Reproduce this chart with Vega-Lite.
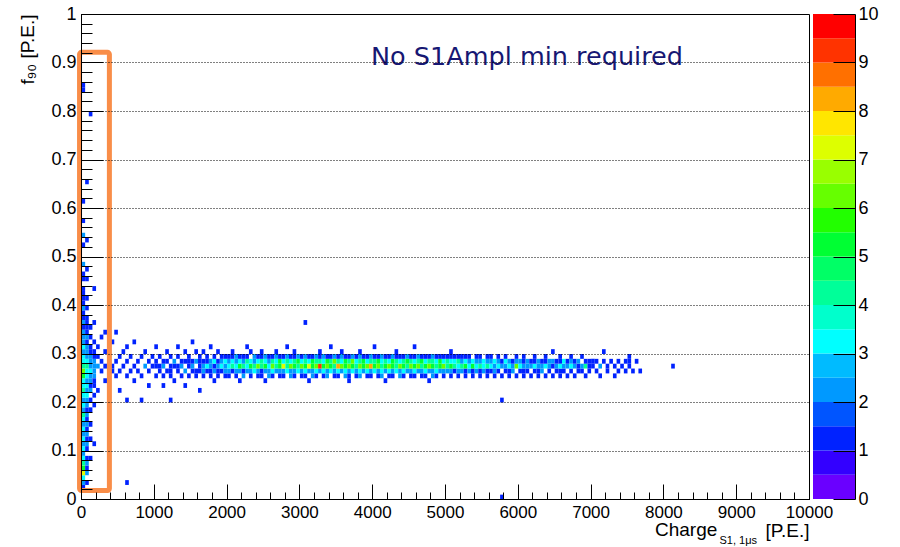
{
"$schema": "https://vega.github.io/schema/vega-lite/v6.json",
"autosize": {"type": "pad"},
"padding": {"left": 17, "top": 4, "right": 5, "bottom": 2},
"background": "white",
"bounds": "flush",
"spacing": 4,
"config": {
 "font": "Liberation Sans",
 "view": {"stroke": "#000", "strokeWidth": 1},
 "axis": {"labelFont": "Liberation Sans", "titleFont": "Liberation Sans", "labelColor": "#000", "titleColor": "#000", "tickColor": "#000", "domainColor": "#000", "labelFontSize": 18, "titleFontSize": 19, "titleFontWeight": "normal", "labelFlush": false, "labelOverlap": false, "tickWidth": 1, "domainWidth": 1}
},
"datasets": {
 "cells": [
{"x":0,"y":0.02,"c":1},{"x":0,"y":0.03,"c":2},{"x":0,"y":0.04,"c":3},{"x":0,"y":0.05,"c":7},{"x":0,"y":0.06,"c":5},{"x":0,"y":0.07,"c":4},{"x":0,"y":0.08,"c":3},{"x":0,"y":0.09,"c":2},{"x":0,"y":0.1,"c":3},{"x":0,"y":0.11,"c":2},{"x":0,"y":0.12,"c":3},{"x":0,"y":0.13,"c":2},{"x":0,"y":0.14,"c":3},{"x":0,"y":0.15,"c":2},{"x":0,"y":0.16,"c":3},{"x":0,"y":0.17,"c":4},{"x":0,"y":0.18,"c":2},{"x":0,"y":0.19,"c":3},{"x":0,"y":0.2,"c":2},{"x":0,"y":0.21,"c":3},{"x":0,"y":0.22,"c":4},{"x":0,"y":0.23,"c":3},{"x":0,"y":0.24,"c":3},{"x":0,"y":0.25,"c":5},{"x":0,"y":0.26,"c":6},{"x":0,"y":0.27,"c":4},{"x":0,"y":0.28,"c":3},{"x":0,"y":0.29,"c":3},{"x":0,"y":0.3,"c":2},{"x":0,"y":0.31,"c":3},{"x":0,"y":0.32,"c":2},{"x":0,"y":0.33,"c":2},{"x":0,"y":0.34,"c":2},{"x":0,"y":0.35,"c":1},{"x":0,"y":0.36,"c":2},{"x":0,"y":0.37,"c":1},{"x":0,"y":0.38,"c":1},{"x":0,"y":0.39,"c":2},{"x":0,"y":0.4,"c":1},{"x":0,"y":0.41,"c":1},{"x":0,"y":0.42,"c":1},{"x":0,"y":0.43,"c":1},{"x":0,"y":0.45,"c":1},{"x":0,"y":0.46,"c":1},{"x":0,"y":0.48,"c":2},{"x":0,"y":0.52,"c":1},{"x":0,"y":0.54,"c":2},{"x":0,"y":0.57,"c":1},{"x":0,"y":0.61,"c":1},{"x":0,"y":0.84,"c":1},{"x":0,"y":0.85,"c":1},
{"x":50,"y":0.03,"c":1},{"x":50,"y":0.05,"c":2},{"x":50,"y":0.06,"c":1},{"x":50,"y":0.07,"c":2},{"x":50,"y":0.08,"c":1},{"x":50,"y":0.1,"c":1},{"x":50,"y":0.11,"c":2},{"x":50,"y":0.12,"c":1},{"x":50,"y":0.13,"c":2},{"x":50,"y":0.14,"c":1},{"x":50,"y":0.15,"c":2},{"x":50,"y":0.16,"c":1},{"x":50,"y":0.17,"c":2},{"x":50,"y":0.18,"c":1},{"x":50,"y":0.19,"c":2},{"x":50,"y":0.2,"c":2},{"x":50,"y":0.21,"c":3},{"x":50,"y":0.22,"c":2},{"x":50,"y":0.23,"c":3},{"x":50,"y":0.24,"c":2},{"x":50,"y":0.25,"c":3},{"x":50,"y":0.26,"c":3},{"x":50,"y":0.27,"c":4},{"x":50,"y":0.28,"c":3},{"x":50,"y":0.29,"c":2},{"x":50,"y":0.3,"c":2},{"x":50,"y":0.31,"c":2},{"x":50,"y":0.32,"c":1},{"x":50,"y":0.33,"c":2},{"x":50,"y":0.34,"c":1},{"x":50,"y":0.35,"c":1},{"x":50,"y":0.36,"c":1},{"x":50,"y":0.37,"c":1},{"x":50,"y":0.39,"c":1},{"x":50,"y":0.41,"c":1},{"x":50,"y":0.45,"c":1},{"x":50,"y":0.47,"c":1},{"x":50,"y":0.53,"c":1},{"x":50,"y":0.65,"c":1},
{"x":100,"y":0.08,"c":1},{"x":100,"y":0.12,"c":1},{"x":100,"y":0.15,"c":1},{"x":100,"y":0.18,"c":1},{"x":100,"y":0.2,"c":1},{"x":100,"y":0.22,"c":2},{"x":100,"y":0.23,"c":1},{"x":100,"y":0.24,"c":2},{"x":100,"y":0.25,"c":2},{"x":100,"y":0.26,"c":3},{"x":100,"y":0.27,"c":2},{"x":100,"y":0.28,"c":2},{"x":100,"y":0.29,"c":2},{"x":100,"y":0.3,"c":1},{"x":100,"y":0.31,"c":1},{"x":100,"y":0.33,"c":1},{"x":100,"y":0.35,"c":1},{"x":100,"y":0.79,"c":1},
{"x":150,"y":0.11,"c":1},{"x":150,"y":0.19,"c":1},{"x":150,"y":0.21,"c":1},{"x":150,"y":0.23,"c":1},{"x":150,"y":0.24,"c":1},{"x":150,"y":0.25,"c":2},{"x":150,"y":0.26,"c":2},{"x":150,"y":0.27,"c":2},{"x":150,"y":0.28,"c":2},{"x":150,"y":0.29,"c":1},{"x":150,"y":0.3,"c":1},{"x":150,"y":0.32,"c":1},{"x":150,"y":0.36,"c":1},{"x":150,"y":0.43,"c":1},
{"x":200,"y":0.22,"c":1},{"x":200,"y":0.27,"c":2},{"x":200,"y":0.29,"c":1},{"x":200,"y":0.31,"c":1},
{"x":250,"y":0.26,"c":1},{"x":250,"y":0.28,"c":1},{"x":250,"y":0.33,"c":1},
{"x":300,"y":0.24,"c":1},{"x":300,"y":0.27,"c":1},{"x":300,"y":0.3,"c":1},{"x":300,"y":0.34,"c":1},
{"x":350,"y":0.25,"c":1},{"x":350,"y":0.29,"c":1},{"x":350,"y":0.21,"c":1},
{"x":400,"y":0.27,"c":1},{"x":400,"y":0.32,"c":1},{"x":400,"y":0.26,"c":1},
{"x":450,"y":0.28,"c":1},{"x":450,"y":0.25,"c":1},{"x":450,"y":0.34,"c":1},
{"x":500,"y":0.26,"c":1},{"x":500,"y":0.29,"c":1},{"x":500,"y":0.22,"c":1},
{"x":550,"y":0.27,"c":1},{"x":550,"y":0.3,"c":1},
{"x":600,"y":0.25,"c":1},{"x":600,"y":0.28,"c":1},{"x":600,"y":0.31,"c":1},{"x":600,"y":0.03,"c":1},{"x":600,"y":0.2,"c":1},
{"x":650,"y":0.26,"c":1},{"x":650,"y":0.29,"c":1},
{"x":700,"y":0.27,"c":1},{"x":700,"y":0.24,"c":1},{"x":700,"y":0.32,"c":1},
{"x":750,"y":0.28,"c":1},{"x":750,"y":0.26,"c":1},
{"x":800,"y":0.25,"c":1},{"x":800,"y":0.29,"c":1},{"x":800,"y":0.2,"c":1},
{"x":850,"y":0.27,"c":2},{"x":850,"y":0.3,"c":1},
{"x":900,"y":0.26,"c":1},{"x":900,"y":0.28,"c":1},{"x":900,"y":0.23,"c":1},
{"x":950,"y":0.27,"c":1},{"x":950,"y":0.29,"c":1},
{"x":1000,"y":0.25,"c":1},{"x":1000,"y":0.27,"c":1},{"x":1000,"y":0.28,"c":1},{"x":1000,"y":0.31,"c":1},
{"x":1050,"y":0.26,"c":1},{"x":1050,"y":0.27,"c":1},{"x":1050,"y":0.29,"c":1},
{"x":1100,"y":0.25,"c":1},{"x":1100,"y":0.27,"c":2},{"x":1100,"y":0.28,"c":1},{"x":1100,"y":0.23,"c":1},
{"x":1150,"y":0.26,"c":1},{"x":1150,"y":0.28,"c":1},{"x":1150,"y":0.3,"c":1},
{"x":1200,"y":0.25,"c":1},{"x":1200,"y":0.26,"c":1},{"x":1200,"y":0.27,"c":1},{"x":1200,"y":0.29,"c":1},{"x":1200,"y":0.2,"c":1},
{"x":1250,"y":0.27,"c":1},{"x":1250,"y":0.28,"c":2},{"x":1250,"y":0.24,"c":1},
{"x":1300,"y":0.26,"c":1},{"x":1300,"y":0.27,"c":1},{"x":1300,"y":0.29,"c":1},{"x":1300,"y":0.31,"c":1},
{"x":1350,"y":0.25,"c":1},{"x":1350,"y":0.27,"c":2},{"x":1350,"y":0.28,"c":1},
{"x":1400,"y":0.26,"c":2},{"x":1400,"y":0.28,"c":1},{"x":1400,"y":0.3,"c":1},{"x":1400,"y":0.23,"c":1},
{"x":1450,"y":0.25,"c":1},{"x":1450,"y":0.27,"c":1},{"x":1450,"y":0.28,"c":1},{"x":1450,"y":0.29,"c":1},
{"x":1500,"y":0.26,"c":1},{"x":1500,"y":0.27,"c":2},{"x":1500,"y":0.28,"c":1},{"x":1500,"y":0.32,"c":1},
{"x":1550,"y":0.25,"c":1},{"x":1550,"y":0.26,"c":1},{"x":1550,"y":0.28,"c":2},{"x":1550,"y":0.3,"c":1},
{"x":1600,"y":0.26,"c":1},{"x":1600,"y":0.27,"c":1},{"x":1600,"y":0.28,"c":1},{"x":1600,"y":0.29,"c":1},{"x":1600,"y":0.22,"c":1},
{"x":1650,"y":0.25,"c":1},{"x":1650,"y":0.26,"c":2},{"x":1650,"y":0.27,"c":2},{"x":1650,"y":0.28,"c":1},{"x":1650,"y":0.3,"c":1},
{"x":1700,"y":0.26,"c":1},{"x":1700,"y":0.27,"c":3},{"x":1700,"y":0.28,"c":1},{"x":1700,"y":0.29,"c":1},
{"x":1750,"y":0.25,"c":1},{"x":1750,"y":0.26,"c":1},{"x":1750,"y":0.27,"c":2},{"x":1750,"y":0.28,"c":2},{"x":1750,"y":0.31,"c":1},
{"x":1800,"y":0.26,"c":2},{"x":1800,"y":0.27,"c":1},{"x":1800,"y":0.28,"c":3},{"x":1800,"y":0.29,"c":1},{"x":1800,"y":0.24,"c":1},
{"x":1850,"y":0.25,"c":1},{"x":1850,"y":0.26,"c":1},{"x":1850,"y":0.27,"c":2},{"x":1850,"y":0.28,"c":1},{"x":1850,"y":0.3,"c":1},
{"x":1900,"y":0.26,"c":1},{"x":1900,"y":0.27,"c":3},{"x":1900,"y":0.28,"c":2},{"x":1900,"y":0.29,"c":1},
{"x":1950,"y":0.25,"c":1},{"x":1950,"y":0.26,"c":2},{"x":1950,"y":0.27,"c":2},{"x":1950,"y":0.28,"c":3},{"x":1950,"y":0.29,"c":1},
{"x":2000,"y":0.25,"c":1},{"x":2000,"y":0.26,"c":2},{"x":2000,"y":0.27,"c":3},{"x":2000,"y":0.28,"c":2},{"x":2000,"y":0.29,"c":1},
{"x":2050,"y":0.26,"c":1},{"x":2050,"y":0.27,"c":4},{"x":2050,"y":0.28,"c":3},{"x":2050,"y":0.29,"c":1},{"x":2050,"y":0.3,"c":1},
{"x":2100,"y":0.25,"c":1},{"x":2100,"y":0.26,"c":2},{"x":2100,"y":0.27,"c":3},{"x":2100,"y":0.28,"c":2},{"x":2100,"y":0.29,"c":2},
{"x":2150,"y":0.26,"c":2},{"x":2150,"y":0.27,"c":5},{"x":2150,"y":0.28,"c":3},{"x":2150,"y":0.29,"c":1},{"x":2150,"y":0.24,"c":1},
{"x":2200,"y":0.25,"c":2},{"x":2200,"y":0.26,"c":1},{"x":2200,"y":0.27,"c":4},{"x":2200,"y":0.28,"c":2},{"x":2200,"y":0.29,"c":1},
{"x":2250,"y":0.26,"c":2},{"x":2250,"y":0.27,"c":3},{"x":2250,"y":0.28,"c":4},{"x":2250,"y":0.29,"c":1},{"x":2250,"y":0.31,"c":1},
{"x":2300,"y":0.25,"c":1},{"x":2300,"y":0.26,"c":2},{"x":2300,"y":0.27,"c":5},{"x":2300,"y":0.28,"c":3},{"x":2300,"y":0.3,"c":1},
{"x":2350,"y":0.26,"c":3},{"x":2350,"y":0.27,"c":4},{"x":2350,"y":0.28,"c":2},{"x":2350,"y":0.29,"c":2},
{"x":2400,"y":0.25,"c":1},{"x":2400,"y":0.26,"c":2},{"x":2400,"y":0.27,"c":6},{"x":2400,"y":0.28,"c":3},{"x":2400,"y":0.29,"c":1},
{"x":2450,"y":0.25,"c":1},{"x":2450,"y":0.26,"c":1},{"x":2450,"y":0.27,"c":4},{"x":2450,"y":0.28,"c":4},{"x":2450,"y":0.29,"c":1},{"x":2450,"y":0.3,"c":1},
{"x":2500,"y":0.26,"c":2},{"x":2500,"y":0.27,"c":5},{"x":2500,"y":0.28,"c":3},{"x":2500,"y":0.29,"c":2},{"x":2500,"y":0.24,"c":1},
{"x":2550,"y":0.25,"c":2},{"x":2550,"y":0.26,"c":2},{"x":2550,"y":0.27,"c":3},{"x":2550,"y":0.28,"c":2},{"x":2550,"y":0.29,"c":1},
{"x":2600,"y":0.25,"c":1},{"x":2600,"y":0.26,"c":3},{"x":2600,"y":0.27,"c":6},{"x":2600,"y":0.28,"c":4},{"x":2600,"y":0.29,"c":1},
{"x":2650,"y":0.26,"c":2},{"x":2650,"y":0.27,"c":4},{"x":2650,"y":0.28,"c":3},{"x":2650,"y":0.29,"c":2},{"x":2650,"y":0.3,"c":1},
{"x":2700,"y":0.25,"c":1},{"x":2700,"y":0.26,"c":2},{"x":2700,"y":0.27,"c":5},{"x":2700,"y":0.28,"c":5},{"x":2700,"y":0.29,"c":1},
{"x":2750,"y":0.25,"c":1},{"x":2750,"y":0.26,"c":2},{"x":2750,"y":0.27,"c":7},{"x":2750,"y":0.28,"c":3},{"x":2750,"y":0.29,"c":1},
{"x":2800,"y":0.26,"c":3},{"x":2800,"y":0.27,"c":4},{"x":2800,"y":0.28,"c":4},{"x":2800,"y":0.29,"c":2},{"x":2800,"y":0.31,"c":1},
{"x":2850,"y":0.25,"c":2},{"x":2850,"y":0.26,"c":2},{"x":2850,"y":0.27,"c":6},{"x":2850,"y":0.28,"c":3},{"x":2850,"y":0.29,"c":1},
{"x":2900,"y":0.25,"c":1},{"x":2900,"y":0.26,"c":2},{"x":2900,"y":0.27,"c":5},{"x":2900,"y":0.28,"c":4},{"x":2900,"y":0.29,"c":1},{"x":2900,"y":0.3,"c":1},
{"x":2950,"y":0.26,"c":3},{"x":2950,"y":0.27,"c":4},{"x":2950,"y":0.28,"c":5},{"x":2950,"y":0.29,"c":2},
{"x":3000,"y":0.25,"c":1},{"x":3000,"y":0.26,"c":2},{"x":3000,"y":0.27,"c":6},{"x":3000,"y":0.28,"c":3},{"x":3000,"y":0.29,"c":1},
{"x":3050,"y":0.25,"c":1},{"x":3050,"y":0.26,"c":3},{"x":3050,"y":0.27,"c":5},{"x":3050,"y":0.28,"c":4},{"x":3050,"y":0.29,"c":2},{"x":3050,"y":0.36,"c":1},
{"x":3100,"y":0.26,"c":2},{"x":3100,"y":0.27,"c":7},{"x":3100,"y":0.28,"c":3},{"x":3100,"y":0.29,"c":1},{"x":3100,"y":0.24,"c":1},
{"x":3150,"y":0.25,"c":2},{"x":3150,"y":0.26,"c":2},{"x":3150,"y":0.27,"c":5},{"x":3150,"y":0.28,"c":5},{"x":3150,"y":0.29,"c":1},
{"x":3200,"y":0.25,"c":1},{"x":3200,"y":0.26,"c":3},{"x":3200,"y":0.27,"c":6},{"x":3200,"y":0.28,"c":4},{"x":3200,"y":0.29,"c":2},
{"x":3250,"y":0.26,"c":2},{"x":3250,"y":0.27,"c":9},{"x":3250,"y":0.28,"c":4},{"x":3250,"y":0.29,"c":1},{"x":3250,"y":0.3,"c":1},
{"x":3300,"y":0.25,"c":1},{"x":3300,"y":0.26,"c":3},{"x":3300,"y":0.27,"c":5},{"x":3300,"y":0.28,"c":3},{"x":3300,"y":0.29,"c":2},
{"x":3350,"y":0.25,"c":2},{"x":3350,"y":0.26,"c":2},{"x":3350,"y":0.27,"c":6},{"x":3350,"y":0.28,"c":5},{"x":3350,"y":0.29,"c":1},
{"x":3400,"y":0.26,"c":3},{"x":3400,"y":0.27,"c":5},{"x":3400,"y":0.28,"c":4},{"x":3400,"y":0.29,"c":1},{"x":3400,"y":0.31,"c":1},
{"x":3450,"y":0.25,"c":1},{"x":3450,"y":0.26,"c":2},{"x":3450,"y":0.27,"c":4},{"x":3450,"y":0.28,"c":6},{"x":3450,"y":0.29,"c":2},
{"x":3500,"y":0.25,"c":1},{"x":3500,"y":0.26,"c":3},{"x":3500,"y":0.27,"c":8},{"x":3500,"y":0.28,"c":4},{"x":3500,"y":0.29,"c":1},
{"x":3550,"y":0.26,"c":2},{"x":3550,"y":0.27,"c":6},{"x":3550,"y":0.28,"c":3},{"x":3550,"y":0.29,"c":2},{"x":3550,"y":0.3,"c":1},
{"x":3600,"y":0.25,"c":2},{"x":3600,"y":0.26,"c":3},{"x":3600,"y":0.27,"c":5},{"x":3600,"y":0.28,"c":5},{"x":3600,"y":0.29,"c":1},
{"x":3650,"y":0.25,"c":1},{"x":3650,"y":0.26,"c":2},{"x":3650,"y":0.27,"c":6},{"x":3650,"y":0.28,"c":4},{"x":3650,"y":0.29,"c":1},{"x":3650,"y":0.24,"c":1},
{"x":3700,"y":0.26,"c":3},{"x":3700,"y":0.27,"c":5},{"x":3700,"y":0.28,"c":6},{"x":3700,"y":0.29,"c":2},
{"x":3750,"y":0.25,"c":1},{"x":3750,"y":0.26,"c":2},{"x":3750,"y":0.27,"c":4},{"x":3750,"y":0.28,"c":3},{"x":3750,"y":0.29,"c":1},
{"x":3800,"y":0.25,"c":2},{"x":3800,"y":0.26,"c":3},{"x":3800,"y":0.27,"c":6},{"x":3800,"y":0.28,"c":4},{"x":3800,"y":0.29,"c":2},{"x":3800,"y":0.3,"c":1},
{"x":3850,"y":0.26,"c":2},{"x":3850,"y":0.27,"c":5},{"x":3850,"y":0.28,"c":5},{"x":3850,"y":0.29,"c":1},
{"x":3900,"y":0.25,"c":1},{"x":3900,"y":0.26,"c":3},{"x":3900,"y":0.27,"c":6},{"x":3900,"y":0.28,"c":3},{"x":3900,"y":0.29,"c":1},
{"x":3950,"y":0.25,"c":1},{"x":3950,"y":0.26,"c":2},{"x":3950,"y":0.27,"c":8},{"x":3950,"y":0.28,"c":4},{"x":3950,"y":0.29,"c":2},
{"x":4000,"y":0.26,"c":3},{"x":4000,"y":0.27,"c":5},{"x":4000,"y":0.28,"c":4},{"x":4000,"y":0.29,"c":1},{"x":4000,"y":0.31,"c":1},
{"x":4050,"y":0.25,"c":1},{"x":4050,"y":0.26,"c":2},{"x":4050,"y":0.27,"c":6},{"x":4050,"y":0.28,"c":5},{"x":4050,"y":0.29,"c":1},
{"x":4100,"y":0.25,"c":2},{"x":4100,"y":0.26,"c":3},{"x":4100,"y":0.27,"c":4},{"x":4100,"y":0.28,"c":3},{"x":4100,"y":0.29,"c":2},
{"x":4150,"y":0.26,"c":2},{"x":4150,"y":0.27,"c":5},{"x":4150,"y":0.28,"c":4},{"x":4150,"y":0.29,"c":1},{"x":4150,"y":0.24,"c":1},
{"x":4200,"y":0.25,"c":1},{"x":4200,"y":0.26,"c":3},{"x":4200,"y":0.27,"c":6},{"x":4200,"y":0.28,"c":3},{"x":4200,"y":0.29,"c":1},
{"x":4250,"y":0.25,"c":1},{"x":4250,"y":0.26,"c":2},{"x":4250,"y":0.27,"c":5},{"x":4250,"y":0.28,"c":5},{"x":4250,"y":0.29,"c":2},
{"x":4300,"y":0.26,"c":3},{"x":4300,"y":0.27,"c":4},{"x":4300,"y":0.28,"c":4},{"x":4300,"y":0.29,"c":1},{"x":4300,"y":0.3,"c":1},
{"x":4350,"y":0.25,"c":2},{"x":4350,"y":0.26,"c":2},{"x":4350,"y":0.27,"c":6},{"x":4350,"y":0.28,"c":3},{"x":4350,"y":0.29,"c":1},
{"x":4400,"y":0.25,"c":1},{"x":4400,"y":0.26,"c":3},{"x":4400,"y":0.27,"c":5},{"x":4400,"y":0.28,"c":4},{"x":4400,"y":0.29,"c":1},
{"x":4450,"y":0.26,"c":2},{"x":4450,"y":0.27,"c":4},{"x":4450,"y":0.28,"c":5},{"x":4450,"y":0.29,"c":2},
{"x":4500,"y":0.25,"c":1},{"x":4500,"y":0.26,"c":2},{"x":4500,"y":0.27,"c":6},{"x":4500,"y":0.28,"c":4},{"x":4500,"y":0.29,"c":1},
{"x":4550,"y":0.25,"c":1},{"x":4550,"y":0.26,"c":3},{"x":4550,"y":0.27,"c":5},{"x":4550,"y":0.28,"c":3},{"x":4550,"y":0.29,"c":1},{"x":4550,"y":0.31,"c":1},
{"x":4600,"y":0.26,"c":2},{"x":4600,"y":0.27,"c":6},{"x":4600,"y":0.28,"c":4},{"x":4600,"y":0.29,"c":2},
{"x":4650,"y":0.25,"c":1},{"x":4650,"y":0.26,"c":2},{"x":4650,"y":0.27,"c":4},{"x":4650,"y":0.28,"c":5},{"x":4650,"y":0.29,"c":1},
{"x":4700,"y":0.25,"c":1},{"x":4700,"y":0.26,"c":3},{"x":4700,"y":0.27,"c":5},{"x":4700,"y":0.28,"c":3},{"x":4700,"y":0.29,"c":1},
{"x":4750,"y":0.26,"c":2},{"x":4750,"y":0.27,"c":6},{"x":4750,"y":0.28,"c":4},{"x":4750,"y":0.29,"c":1},{"x":4750,"y":0.24,"c":1},
{"x":4800,"y":0.25,"c":2},{"x":4800,"y":0.26,"c":2},{"x":4800,"y":0.27,"c":5},{"x":4800,"y":0.28,"c":4},{"x":4800,"y":0.29,"c":2},
{"x":4850,"y":0.25,"c":1},{"x":4850,"y":0.26,"c":3},{"x":4850,"y":0.27,"c":4},{"x":4850,"y":0.28,"c":3},{"x":4850,"y":0.29,"c":1},
{"x":4900,"y":0.26,"c":2},{"x":4900,"y":0.27,"c":5},{"x":4900,"y":0.28,"c":5},{"x":4900,"y":0.29,"c":1},
{"x":4950,"y":0.25,"c":1},{"x":4950,"y":0.26,"c":2},{"x":4950,"y":0.27,"c":6},{"x":4950,"y":0.28,"c":3},{"x":4950,"y":0.29,"c":1},
{"x":5000,"y":0.26,"c":2},{"x":5000,"y":0.27,"c":4},{"x":5000,"y":0.28,"c":4},{"x":5000,"y":0.29,"c":1},
{"x":5050,"y":0.25,"c":1},{"x":5050,"y":0.26,"c":2},{"x":5050,"y":0.27,"c":5},{"x":5050,"y":0.28,"c":3},{"x":5050,"y":0.29,"c":1},{"x":5050,"y":0.3,"c":1},
{"x":5100,"y":0.26,"c":1},{"x":5100,"y":0.27,"c":4},{"x":5100,"y":0.28,"c":3},{"x":5100,"y":0.29,"c":1},
{"x":5150,"y":0.25,"c":1},{"x":5150,"y":0.26,"c":2},{"x":5150,"y":0.27,"c":3},{"x":5150,"y":0.28,"c":4},{"x":5150,"y":0.29,"c":1},
{"x":5200,"y":0.26,"c":2},{"x":5200,"y":0.27,"c":4},{"x":5200,"y":0.28,"c":2},{"x":5200,"y":0.29,"c":1},
{"x":5250,"y":0.25,"c":1},{"x":5250,"y":0.26,"c":1},{"x":5250,"y":0.27,"c":5},{"x":5250,"y":0.28,"c":3},{"x":5250,"y":0.29,"c":1},
{"x":5300,"y":0.26,"c":2},{"x":5300,"y":0.27,"c":3},{"x":5300,"y":0.28,"c":2},{"x":5300,"y":0.29,"c":1},
{"x":5350,"y":0.25,"c":1},{"x":5350,"y":0.26,"c":1},{"x":5350,"y":0.27,"c":5},{"x":5350,"y":0.28,"c":3},
{"x":5400,"y":0.26,"c":2},{"x":5400,"y":0.27,"c":3},{"x":5400,"y":0.28,"c":2},{"x":5400,"y":0.29,"c":1},
{"x":5450,"y":0.25,"c":1},{"x":5450,"y":0.26,"c":1},{"x":5450,"y":0.27,"c":4},{"x":5450,"y":0.28,"c":2},{"x":5450,"y":0.29,"c":1},
{"x":5500,"y":0.26,"c":2},{"x":5500,"y":0.27,"c":3},{"x":5500,"y":0.28,"c":3},
{"x":5550,"y":0.25,"c":1},{"x":5550,"y":0.26,"c":1},{"x":5550,"y":0.27,"c":4},{"x":5550,"y":0.28,"c":2},{"x":5550,"y":0.29,"c":1},
{"x":5600,"y":0.26,"c":1},{"x":5600,"y":0.27,"c":3},{"x":5600,"y":0.28,"c":2},{"x":5600,"y":0.29,"c":1},
{"x":5650,"y":0.25,"c":1},{"x":5650,"y":0.26,"c":2},{"x":5650,"y":0.27,"c":2},{"x":5650,"y":0.28,"c":3},
{"x":5700,"y":0.26,"c":1},{"x":5700,"y":0.27,"c":3},{"x":5700,"y":0.28,"c":2},{"x":5700,"y":0.29,"c":1},
{"x":5750,"y":0.25,"c":1},{"x":5750,"y":0.27,"c":2},{"x":5750,"y":0.28,"c":1},{"x":5750,"y":0.2,"c":1},{"x":5750,"y":0,"c":1},
{"x":5800,"y":0.26,"c":1},{"x":5800,"y":0.27,"c":2},{"x":5800,"y":0.28,"c":3},{"x":5800,"y":0.29,"c":1},
{"x":5850,"y":0.25,"c":1},{"x":5850,"y":0.26,"c":1},{"x":5850,"y":0.27,"c":3},{"x":5850,"y":0.28,"c":2},
{"x":5900,"y":0.26,"c":2},{"x":5900,"y":0.27,"c":2},{"x":5900,"y":0.28,"c":1},
{"x":5950,"y":0.25,"c":1},{"x":5950,"y":0.27,"c":6},{"x":5950,"y":0.28,"c":2},{"x":5950,"y":0.29,"c":1},
{"x":6000,"y":0.26,"c":1},{"x":6000,"y":0.27,"c":3},{"x":6000,"y":0.28,"c":2},
{"x":6050,"y":0.25,"c":1},{"x":6050,"y":0.26,"c":1},{"x":6050,"y":0.27,"c":2},{"x":6050,"y":0.28,"c":1},{"x":6050,"y":0.29,"c":1},
{"x":6100,"y":0.26,"c":1},{"x":6100,"y":0.27,"c":2},{"x":6100,"y":0.28,"c":2},
{"x":6150,"y":0.25,"c":1},{"x":6150,"y":0.27,"c":2},{"x":6150,"y":0.28,"c":1},
{"x":6200,"y":0.26,"c":1},{"x":6200,"y":0.27,"c":3},{"x":6200,"y":0.28,"c":1},{"x":6200,"y":0.29,"c":1},
{"x":6250,"y":0.25,"c":1},{"x":6250,"y":0.26,"c":1},{"x":6250,"y":0.27,"c":2},{"x":6250,"y":0.28,"c":2},
{"x":6300,"y":0.26,"c":2},{"x":6300,"y":0.27,"c":2},{"x":6300,"y":0.28,"c":1},
{"x":6350,"y":0.25,"c":1},{"x":6350,"y":0.27,"c":3},{"x":6350,"y":0.28,"c":1},{"x":6350,"y":0.29,"c":1},
{"x":6400,"y":0.26,"c":1},{"x":6400,"y":0.27,"c":2},{"x":6400,"y":0.28,"c":2},
{"x":6450,"y":0.25,"c":1},{"x":6450,"y":0.27,"c":1},{"x":6450,"y":0.28,"c":2},{"x":6450,"y":0.3,"c":1},
{"x":6500,"y":0.26,"c":1},{"x":6500,"y":0.27,"c":2},{"x":6500,"y":0.28,"c":1},
{"x":6550,"y":0.25,"c":1},{"x":6550,"y":0.26,"c":1},{"x":6550,"y":0.27,"c":3},{"x":6550,"y":0.28,"c":1},{"x":6550,"y":0.29,"c":1},
{"x":6600,"y":0.26,"c":1},{"x":6600,"y":0.27,"c":2},{"x":6600,"y":0.28,"c":3},
{"x":6650,"y":0.25,"c":1},{"x":6650,"y":0.27,"c":2},{"x":6650,"y":0.28,"c":1},
{"x":6700,"y":0.26,"c":1},{"x":6700,"y":0.27,"c":3},{"x":6700,"y":0.28,"c":2},{"x":6700,"y":0.29,"c":1},
{"x":6750,"y":0.25,"c":1},{"x":6750,"y":0.27,"c":2},{"x":6750,"y":0.28,"c":1},
{"x":6800,"y":0.26,"c":1},{"x":6800,"y":0.27,"c":1},{"x":6800,"y":0.28,"c":2},
{"x":6850,"y":0.26,"c":1},{"x":6850,"y":0.27,"c":2},{"x":6850,"y":0.29,"c":1},
{"x":6900,"y":0.25,"c":1},{"x":6900,"y":0.27,"c":4},{"x":6900,"y":0.28,"c":1},
{"x":6950,"y":0.26,"c":1},{"x":6950,"y":0.27,"c":1},{"x":6950,"y":0.28,"c":1},
{"x":7000,"y":0.27,"c":1},{"x":7000,"y":0.28,"c":1},
{"x":7050,"y":0.26,"c":1},{"x":7050,"y":0.28,"c":1},
{"x":7100,"y":0.27,"c":2},{"x":7100,"y":0.25,"c":1},
{"x":7150,"y":0.28,"c":1},{"x":7150,"y":0.3,"c":1},
{"x":7200,"y":0.27,"c":1},{"x":7200,"y":0.26,"c":1},
{"x":7250,"y":0.28,"c":1},
{"x":7300,"y":0.27,"c":1},{"x":7300,"y":0.25,"c":1},
{"x":7350,"y":0.26,"c":1},{"x":7350,"y":0.28,"c":1},
{"x":7400,"y":0.27,"c":1},
{"x":7450,"y":0.28,"c":1},{"x":7450,"y":0.26,"c":1},
{"x":7500,"y":0.27,"c":1},{"x":7500,"y":0.28,"c":1},{"x":7500,"y":0.29,"c":1},
{"x":7550,"y":0.26,"c":1},
{"x":7600,"y":0.28,"c":1},
{"x":7650,"y":0.26,"c":1},
{"x":8100,"y":0.27,"c":1}
 ]
},
"hconcat": [
 {
  "width": 728,
  "height": 485,
  "layer": [
   {
    "data": {"name": "cells"},
    "mark": {"type": "rect", "strokeWidth": 0},
    "encoding": {
     "x": {"field": "x", "type": "quantitative", "bin": {"binned": true, "step": 50},
      "scale": {"domain": [0, 10000], "nice": false, "zero": false},
      "axis": {"orient": "bottom", "values": [0,1000,2000,3000,4000,5000,6000,7000,8000,9000,10000], "format": "d", "tickSize": -15, "labelPadding": 20, "labelFontSize": 17, "grid": false, "zindex": 1,
       "title": "[P.E.]", "titleX": 728, "titleY": 37, "titleAlign": "right", "titleAnchor": "end", "titleBaseline": "alphabetic"}},
     "y": {"field": "y", "type": "quantitative", "bin": {"binned": true, "step": 0.01},
      "scale": {"domain": [0, 1], "nice": false, "zero": false},
      "axis": {"orient": "left", "values": [0,0.1,0.2,0.3,0.4,0.5,0.6,0.7,0.8,0.9,1], "format": ".1~f", "tickSize": -22, "labelPadding": 27, "grid": true, "gridDash": [1, 2], "gridColor": "#000", "zindex": 1,
       "title": "f\u2089\u2080 [P.E.]", "titleAngle": 270, "titleX": -54, "titleY": 0, "titleAlign": "right", "titleAnchor": "end", "titleBaseline": "middle"}},
     "color": {"field": "c", "type": "quantitative",
      "scale": {"type": "threshold", "domain": [0.5,1,1.5,2,2.5,3,3.5,4,4.5,5,5.5,6,6.5,7,7.5,8,8.5,9,9.5],
       "range": ["#6a00ff","#3300ff","#0022ff","#0055ff","#0099ff","#00bbff","#00ffff","#00ffcc","#00ff99","#00ff66","#00ff33","#22ff00","#66ff00","#99ff00","#ddff00","#ffe600","#ffaa00","#ff7000","#ff3300","#ff0000"]},
      "legend": null}
    }
   },
   {
    "data": {"values": [{"x1": -20, "x2": 390, "y1": 0.0175, "y2": 0.921}]},
    "mark": {"type": "rect", "fillOpacity": 0, "stroke": "#f98d48", "strokeWidth": 5, "cornerRadius": 2, "clip": false},
    "encoding": {
     "x": {"field": "x1", "type": "quantitative", "scale": {"domain": [0, 10000], "nice": false, "zero": false},
      "axis": {"orient": "bottom", "values": [0,200,400,600,800,1000,1200,1400,1600,1800,2000,2200,2400,2600,2800,3000,3200,3400,3600,3800,4000,4200,4400,4600,4800,5000,5200,5400,5600,5800,6000,6200,6400,6600,6800,7000,7200,7400,7600,7800,8000,8200,8400,8600,8800,9000,9200,9400,9600,9800,10000], "tickSize": -7, "labels": false, "domain": false, "grid": false, "title": null, "zindex": 1}},
     "x2": {"field": "x2"},
     "y": {"field": "y1", "type": "quantitative", "scale": {"domain": [0, 1], "nice": false, "zero": false},
      "axis": {"orient": "left", "values": [0,0.02,0.04,0.06,0.08,0.1,0.12,0.14,0.16,0.18,0.2,0.22,0.24,0.26,0.28,0.3,0.32,0.34,0.36,0.38,0.4,0.42,0.44,0.46,0.48,0.5,0.52,0.54,0.56,0.58,0.6,0.62,0.64,0.66,0.68,0.7,0.72,0.74,0.76,0.78,0.8,0.82,0.84,0.86,0.88,0.9,0.92,0.94,0.96,0.98,1], "tickSize": -11, "labels": false, "domain": false, "grid": false, "title": null, "zindex": 1}},
     "y2": {"field": "y2"}
    }
   },
   {
    "data": {"values": [{"t": "No S1Ampl min required", "x": 6126, "y": 0.895}]},
    "mark": {"type": "text", "font": "DejaVu Sans", "fontSize": 25.5, "color": "#171773", "align": "center", "baseline": "alphabetic"},
    "encoding": {
     "text": {"field": "t"},
     "x": {"field": "x", "type": "quantitative", "scale": {"domain": [0, 10000], "nice": false, "zero": false}, "axis": null},
     "y": {"field": "y", "type": "quantitative", "scale": {"domain": [0, 1], "nice": false, "zero": false}, "axis": null}
    }
   },
   {
    "data": {"values": [{"t": "Charge", "x": 8740, "y": -0.0763}]},
    "mark": {"type": "text", "font": "Liberation Sans", "fontSize": 19, "color": "#000", "align": "right", "baseline": "alphabetic"},
    "encoding": {
     "text": {"field": "t"},
     "x": {"field": "x", "type": "quantitative", "scale": {"domain": [0, 10000], "nice": false, "zero": false}, "axis": null},
     "y": {"field": "y", "type": "quantitative", "scale": {"domain": [0, 1], "nice": false, "zero": false}, "axis": null}
    }
   },
   {
    "data": {"values": [{"t": "S1, 1\u03bcs", "x": 8770, "y": -0.0928}]},
    "mark": {"type": "text", "font": "Liberation Sans", "fontSize": 11, "color": "#000", "align": "left", "baseline": "alphabetic"},
    "encoding": {
     "text": {"field": "t"},
     "x": {"field": "x", "type": "quantitative", "scale": {"domain": [0, 10000], "nice": false, "zero": false}, "axis": null},
     "y": {"field": "y", "type": "quantitative", "scale": {"domain": [0, 1], "nice": false, "zero": false}, "axis": null}
    }
   }
  ],
  "resolve": {"axis": {"x": "independent", "y": "independent"}}
 },
 {
  "width": 42,
  "height": 485,
  "view": {"stroke": null},
  "data": {"values": [
   {"lo":0,"hi":0.5},{"lo":0.5,"hi":1},{"lo":1,"hi":1.5},{"lo":1.5,"hi":2},{"lo":2,"hi":2.5},{"lo":2.5,"hi":3},{"lo":3,"hi":3.5},{"lo":3.5,"hi":4},{"lo":4,"hi":4.5},{"lo":4.5,"hi":5},
   {"lo":5,"hi":5.5},{"lo":5.5,"hi":6},{"lo":6,"hi":6.5},{"lo":6.5,"hi":7},{"lo":7,"hi":7.5},{"lo":7.5,"hi":8},{"lo":8,"hi":8.5},{"lo":8.5,"hi":9},{"lo":9,"hi":9.5},{"lo":9.5,"hi":10}
  ]},
  "mark": {"type": "rect", "strokeWidth": 0},
  "encoding": {
   "x": {"datum": 0, "type": "quantitative", "scale": {"domain": [0, 1], "nice": false}, "axis": null},
   "x2": {"datum": 1},
   "y": {"field": "lo", "type": "quantitative", "scale": {"domain": [0, 10], "nice": false, "zero": false},
    "axis": {"orient": "right", "values": [0,1,2,3,4,5,6,7,8,9,10], "tickSize": -22, "labelPadding": 25, "grid": false, "title": null, "zindex": 1, "labelFontSize": 18}},
   "y2": {"field": "hi"},
   "color": {"field": "lo", "type": "quantitative",
    "scale": {"type": "threshold", "domain": [0.5,1,1.5,2,2.5,3,3.5,4,4.5,5,5.5,6,6.5,7,7.5,8,8.5,9,9.5],
     "range": ["#6a00ff","#3300ff","#0022ff","#0055ff","#0099ff","#00bbff","#00ffff","#00ffcc","#00ff99","#00ff66","#00ff33","#22ff00","#66ff00","#99ff00","#ddff00","#ffe600","#ffaa00","#ff7000","#ff3300","#ff0000"]},
    "legend": null}
  }
 }
]
}
